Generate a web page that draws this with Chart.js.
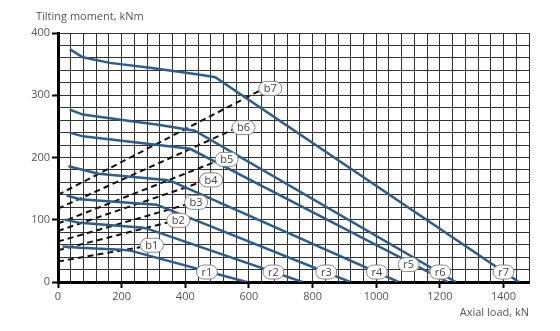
<!DOCTYPE html>
<html>
<head>
<meta charset="utf-8">
<script src="https://cdn.jsdelivr.net/npm/chart.js@4"></script>
<style>
  html, body { margin: 0; padding: 0; background: #fff; }
  #wrap { position: relative; width: 560px; height: 331px; }
</style>
</head>
<body>
<div id="wrap"><canvas id="chart" width="560" height="331"></canvas></div>
<script>
// rating curves (axial load kN, tilting moment kNm)
const r1 = [[14, 57], [69, 55], [200, 52], [230, 50], [593, 0]];
const r2 = [[22, 100], [69, 95], [268, 87], [285, 85], [768, 0]];
const r3 = [[27, 139], [69, 133], [310, 124], [321, 122], [918, 0]];
const r4 = [[33, 186], [80, 180], [127, 174], [340, 164], [365, 160], [1070, 0]];
const r5 = [[37, 240], [78, 234], [268, 223], [415, 214], [1225, 0]];
const r6 = [[37, 277], [78, 269], [237, 258], [310, 253], [430, 243], [1250, 0]];
const r7 = [[37, 374], [78, 361], [163, 352], [289, 344], [447, 333], [494, 329], [1448, 0]];

// dashed bolt lines
const b1 = [[0, 33], [258, 56]];
const b2 = [[0, 51], [347, 96]];
const b3 = [[0, 65], [400, 124]];
const b4 = [[0, 82], [447, 160]];
const b5 = [[0, 94], [499, 194]];
const b6 = [[0, 118], [551, 245]];
const b7 = [[0, 140], [640, 309]];

const curveNames = ['r1', 'r2', 'r3', 'r4', 'r5', 'r6', 'r7'];
const curveLabelX = [468, 677, 843, 1002, 1102, 1201, 1400];
const curveLabelY = [16, 16, 16, 16, 28, 16, 16];

const boltNames = ['b1', 'b2', 'b3', 'b4', 'b5', 'b6', 'b7'];
const boltLabelX = [295, 378, 434, 481, 530, 583, 667];
const boltLabelY = [59, 99, 128, 164, 197, 248, 311];

const xTicks = [0, 200, 400, 600, 800, 1000, 1200, 1400];
const yTicks = [0, 100, 200, 300, 400];

const BLUE = '#2c5d8c';
const FONT = '"Open Sans", "Noto Sans", sans-serif';

function toPoints(pairs) {
  return pairs.map(([x, y]) => ({ x, y }));
}

const datasets = [];
[r1, r2, r3, r4, r5, r6, r7].forEach((c, i) => {
  datasets.push({
    label: curveNames[i],
    data: toPoints(c),
    borderColor: BLUE,
    borderWidth: 2.5,
    pointRadius: 0,
    showLine: true,
    fill: false,
    tension: 0,
  });
});
[b1, b2, b3, b4, b5, b6, b7].forEach((c, i) => {
  datasets.push({
    label: boltNames[i],
    data: toPoints(c),
    borderColor: '#111',
    borderWidth: 2,
    borderDash: [6, 4],
    pointRadius: 0,
    showLine: true,
    fill: false,
    tension: 0,
  });
});

function pill(ctx, cx, cy, text) {
  ctx.font = '11px ' + FONT;
  const w = ctx.measureText(text).width + 10;
  const h = 14;
  const x = cx - w / 2;
  const y = cy - h / 2;
  ctx.beginPath();
  ctx.roundRect(x, y, w, h, 7);
  ctx.fillStyle = '#fff';
  ctx.fill();
  ctx.lineWidth = 1;
  ctx.strokeStyle = '#888';
  ctx.stroke();
  ctx.fillStyle = '#444';
  ctx.textAlign = 'center';
  ctx.textBaseline = 'middle';
  ctx.fillText(text, cx, cy + 0.5);
}

const annotations = {
  id: 'annotations',
  afterDatasetsDraw(chart) {
    const { ctx, scales } = chart;
    ctx.save();
    curveNames.forEach((n, i) => {
      pill(ctx, scales.x.getPixelForValue(curveLabelX[i]), scales.y.getPixelForValue(curveLabelY[i]), n);
    });
    boltNames.forEach((n, i) => {
      pill(ctx, scales.x.getPixelForValue(boltLabelX[i]), scales.y.getPixelForValue(boltLabelY[i]), n);
    });
    ctx.font = '11px ' + FONT;
    ctx.fillStyle = '#555';
    ctx.textBaseline = 'middle';
    ctx.textAlign = 'left';
    ctx.fillText('Tilting moment, kNm', 36, 17);
    ctx.textAlign = 'right';
    ctx.fillText('Axial load, kN', chart.chartArea.right, 313);
    ctx.restore();
  },
};

const majorTick = (list) => (c) => (c.tick && list.includes(c.tick.value) ? '#000' : 'rgba(0,0,0,0)');

new Chart(document.getElementById('chart'), {
  type: 'scatter',
  data: { datasets },
  options: {
    responsive: false,
    animation: false,
    events: [],
    layout: { padding: { left: 0, right: 31, top: 33, bottom: 0 } },
    plugins: { legend: { display: false }, tooltip: { enabled: false } },
    scales: {
      x: {
        type: 'linear',
        min: 0,
        max: 1480,
        afterFit: (s) => { s.height = 49; },
        border: { display: true, color: '#000', width: 3 },
        grid: { color: '#333', lineWidth: 1, tickLength: 6, tickWidth: 2, tickColor: majorTick(xTicks) },
        ticks: {
          stepSize: 40,
          autoSkip: false,
          maxRotation: 0,
          padding: 2,
          color: '#555',
          font: { family: FONT, size: 11 },
          callback: (v) => (xTicks.includes(v) ? v : ''),
        },
      },
      y: {
        type: 'linear',
        min: 0,
        max: 400,
        afterFit: (s) => { s.width = 58; },
        border: { display: true, color: '#000', width: 3 },
        grid: { color: '#333', lineWidth: 1, tickLength: 6, tickWidth: 2, tickColor: majorTick(yTicks) },
        ticks: {
          stepSize: 20,
          autoSkip: false,
          padding: 2,
          color: '#555',
          font: { family: FONT, size: 11 },
          callback: (v) => (yTicks.includes(v) ? v : ''),
        },
      },
    },
  },
  plugins: [annotations],
});
</script>
</body>
</html>
